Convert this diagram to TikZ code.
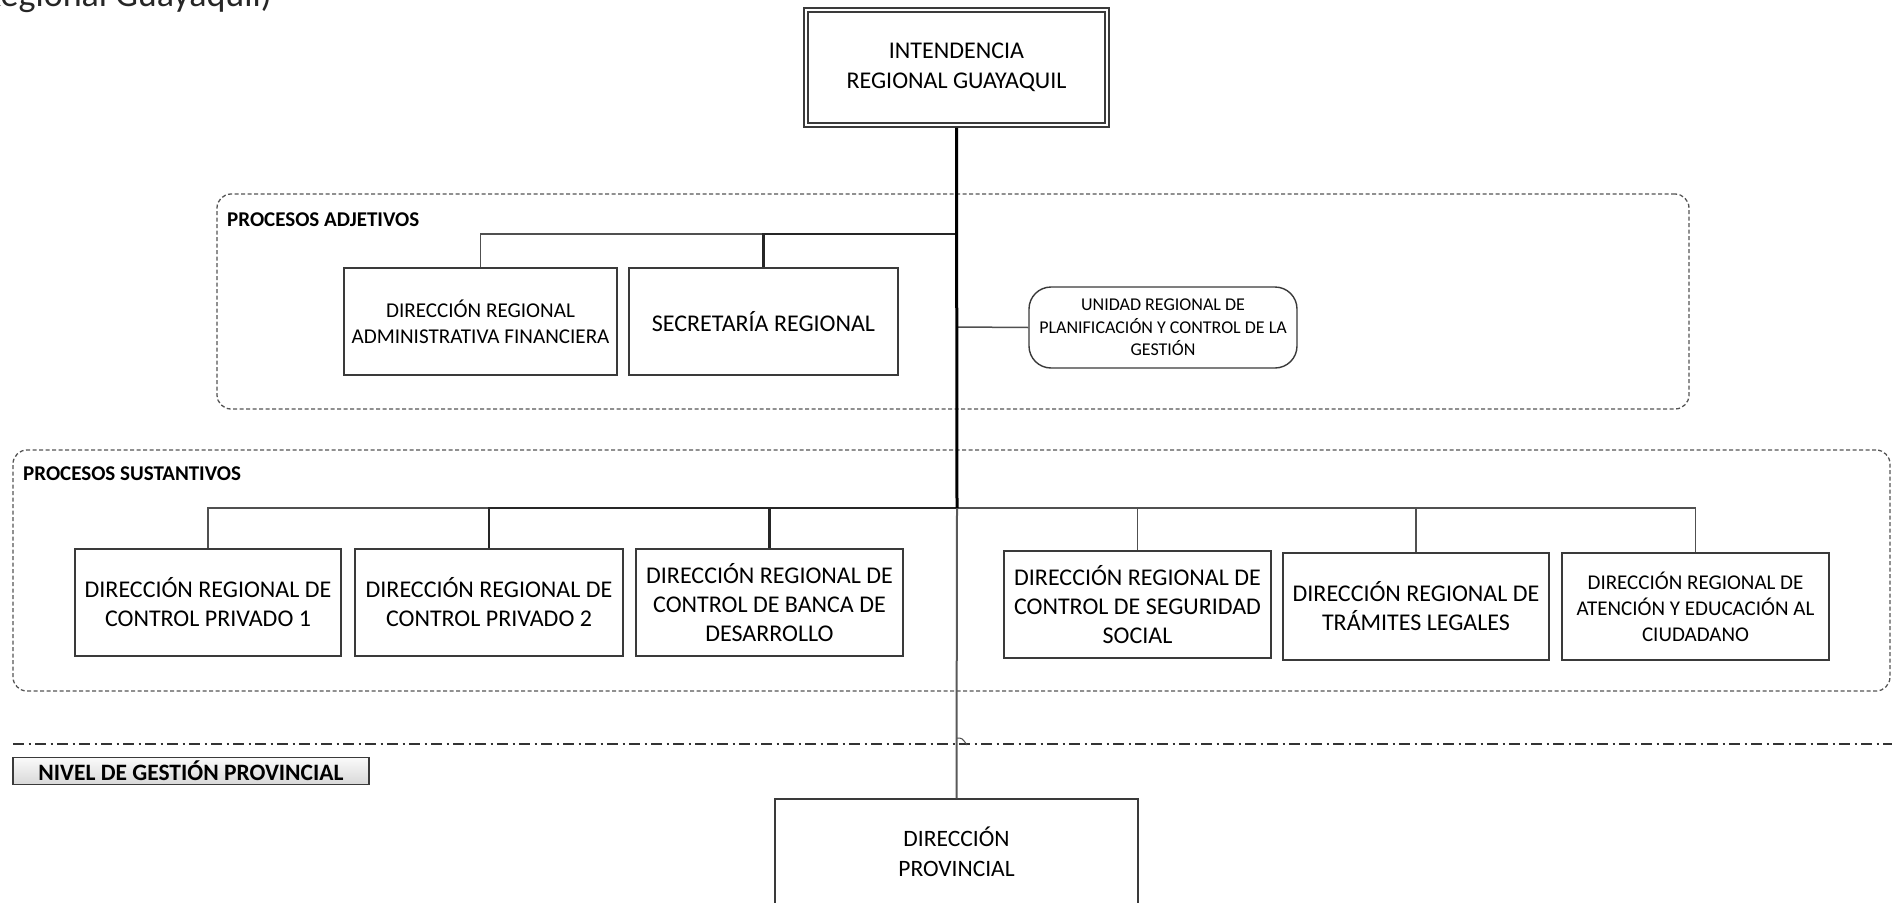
\documentclass[tikz,border=0pt]{standalone}
\usepackage{fontspec}
\setmainfont{Carlito}
\usetikzlibrary{calc}
\definecolor{boxc}{HTML}{3A3A3A}
\definecolor{linec}{HTML}{505050}
\definecolor{dashc}{HTML}{555555}
\definecolor{nivtop}{HTML}{FAFAFA}
\definecolor{nivbot}{HTML}{D8D8D8}
\begin{document}
\begin{tikzpicture}[x=1pt,y=-1pt,
  orgbox/.style={draw=boxc, line width=1.4pt, fill=white, align=center, inner sep=0pt},
  fbig/.style={font=\fontsize{24}{29}\selectfont},
  fmid/.style={font=\fontsize{21}{26}\selectfont},
  fsmall/.style={font=\fontsize{18}{22.5}\selectfont},
  branch/.style={draw=linec, line width=1.5pt},
  branchdk/.style={draw=black!85, line width=2.2pt},
  trunk/.style={draw=black, line width=3pt},
  dashbox/.style={draw=dashc, line width=1.3pt, dash pattern=on 4pt off 2.5pt, rounded corners=14pt, inner sep=0pt},
  seclabel/.style={font=\bfseries\fontsize{21}{24}\selectfont, anchor=west, inner sep=0pt},
  dashdotline/.style={draw=black!80, line width=1.3pt, dash pattern=on 11pt off 4.5pt on 2pt off 4.5pt},
]
\useasboundingbox (0,0) rectangle (1892,902);

% cropped caption at the top left
\node[anchor=base east, inner sep=0pt, font=\fontsize{36}{42}\selectfont, text=black!85] (ttl) at (272,6) {(Regional Guayaquil)};

% process group frames
\node[dashbox, minimum width=1472pt, minimum height=215pt] (adj) at (953,301.5) {};
\node[dashbox, minimum width=1877pt, minimum height=241pt] (sus) at (951.5,570.5) {};
\node[seclabel] (ladj) at (227,220) {PROCESOS ADJETIVOS};
\node[seclabel] (lsus) at (23,474) {PROCESOS SUSTANTIVOS};

% top node
\node[orgbox, font=\fontsize{24}{30}\selectfont, minimum width=305pt, minimum height=119pt, line width=1.6pt] (top) at (956.5,67.5)
  {INTENDENCIA\\REGIONAL GUAYAQUIL};
\draw[draw=boxc, line width=1.6pt] ([xshift=5pt,yshift=-5pt]top.north west) rectangle ([xshift=-5pt,yshift=5pt]top.south east);

% adjective processes
\node[orgbox, minimum width=273pt, minimum height=107pt, font=\fontsize{21.1}{26}\selectfont] (draf) at (480.5,321.5)
  {DIRECCIÓN REGIONAL\\ADMINISTRATIVA FINANCIERA};
\node[orgbox, fbig, minimum width=269pt, minimum height=107pt] (sec) at (763.5,321.5)
  {SECRETARÍA REGIONAL};
\node[orgbox, fsmall, minimum width=268pt, minimum height=81pt, rounded corners=22pt] (uni) at (1163,327.5)
  {UNIDAD REGIONAL DE\\PLANIFICACIÓN Y CONTROL DE LA\\GESTIÓN};

% substantive processes
\node[orgbox, fbig, minimum width=266pt, minimum height=107pt] (s1) at (208,602.5)
  {DIRECCIÓN REGIONAL DE\\CONTROL PRIVADO 1};
\node[orgbox, fbig, minimum width=268pt, minimum height=107pt] (s2) at (489,602.5)
  {DIRECCIÓN REGIONAL DE\\CONTROL PRIVADO 2};
\node[orgbox, fbig, minimum width=267pt, minimum height=107pt] (s3) at (769.5,602.5)
  {DIRECCIÓN REGIONAL DE\\CONTROL DE BANCA DE\\DESARROLLO};
\node[orgbox, fbig, minimum width=267pt, minimum height=107pt] (s4) at (1137.5,604.5)
  {DIRECCIÓN REGIONAL DE\\CONTROL DE SEGURIDAD\\SOCIAL};
\node[orgbox, fbig, minimum width=266pt, minimum height=107pt] (s5) at (1416,606.5)
  {DIRECCIÓN REGIONAL DE\\TRÁMITES LEGALES};
\node[orgbox, fmid, minimum width=267pt, minimum height=107pt] (s6) at (1695.5,606.5)
  {DIRECCIÓN REGIONAL DE\\ATENCIÓN Y EDUCACIÓN AL\\CIUDADANO};

% provincial level
\coordinate (ddL) at (13,744);
\coordinate (ddR) at (1892,744);
\coordinate (hopA) at (957,738);
\coordinate (hopB) at (967,745);
\draw[dashdotline] (ddL) -- (ddR);
\draw[draw=black!70, line width=1pt] (hopA) .. controls (962,738) .. (hopB);
\node[draw=boxc, line width=1.2pt, top color=nivtop, bottom color=nivbot, minimum width=356pt, minimum height=27pt,
      inner sep=0pt, font=\bfseries\fontsize{23.5}{26}\selectfont] (niv) at (191,771) {NIVEL DE GESTIÓN PROVINCIAL};
\node[orgbox, font=\fontsize{23.5}{30}\selectfont, minimum width=363pt, minimum height=106pt] (prov) at (956.5,852)
  {DIRECCIÓN\\PROVINCIAL};

% junctions
\coordinate (jA) at (957,234);
\coordinate (jU) at (957,327);
\coordinate (jS) at (957,508);

% connectors
\draw[branch] (jA) -| (draf.north);
\draw[branchdk] (jA) -| (sec.north);
\draw[branch] (jU) -- (uni.west);
\draw[branch] (jS) -| (s1.north);
\draw[branchdk] (jS) -| (s2.north);
\draw[branchdk] (jS) -| (s3.north);
\draw[branch] (jS) -| (s4.north);
\draw[branch] (jS) -| (s5.north);
\draw[branch] (jS) -| (s6.north);
\draw[branch, line width=2pt, draw=black!65] (jS) -- (prov.north);
\draw[trunk] (top.south) -- (jS);
\end{tikzpicture}
\end{document}
